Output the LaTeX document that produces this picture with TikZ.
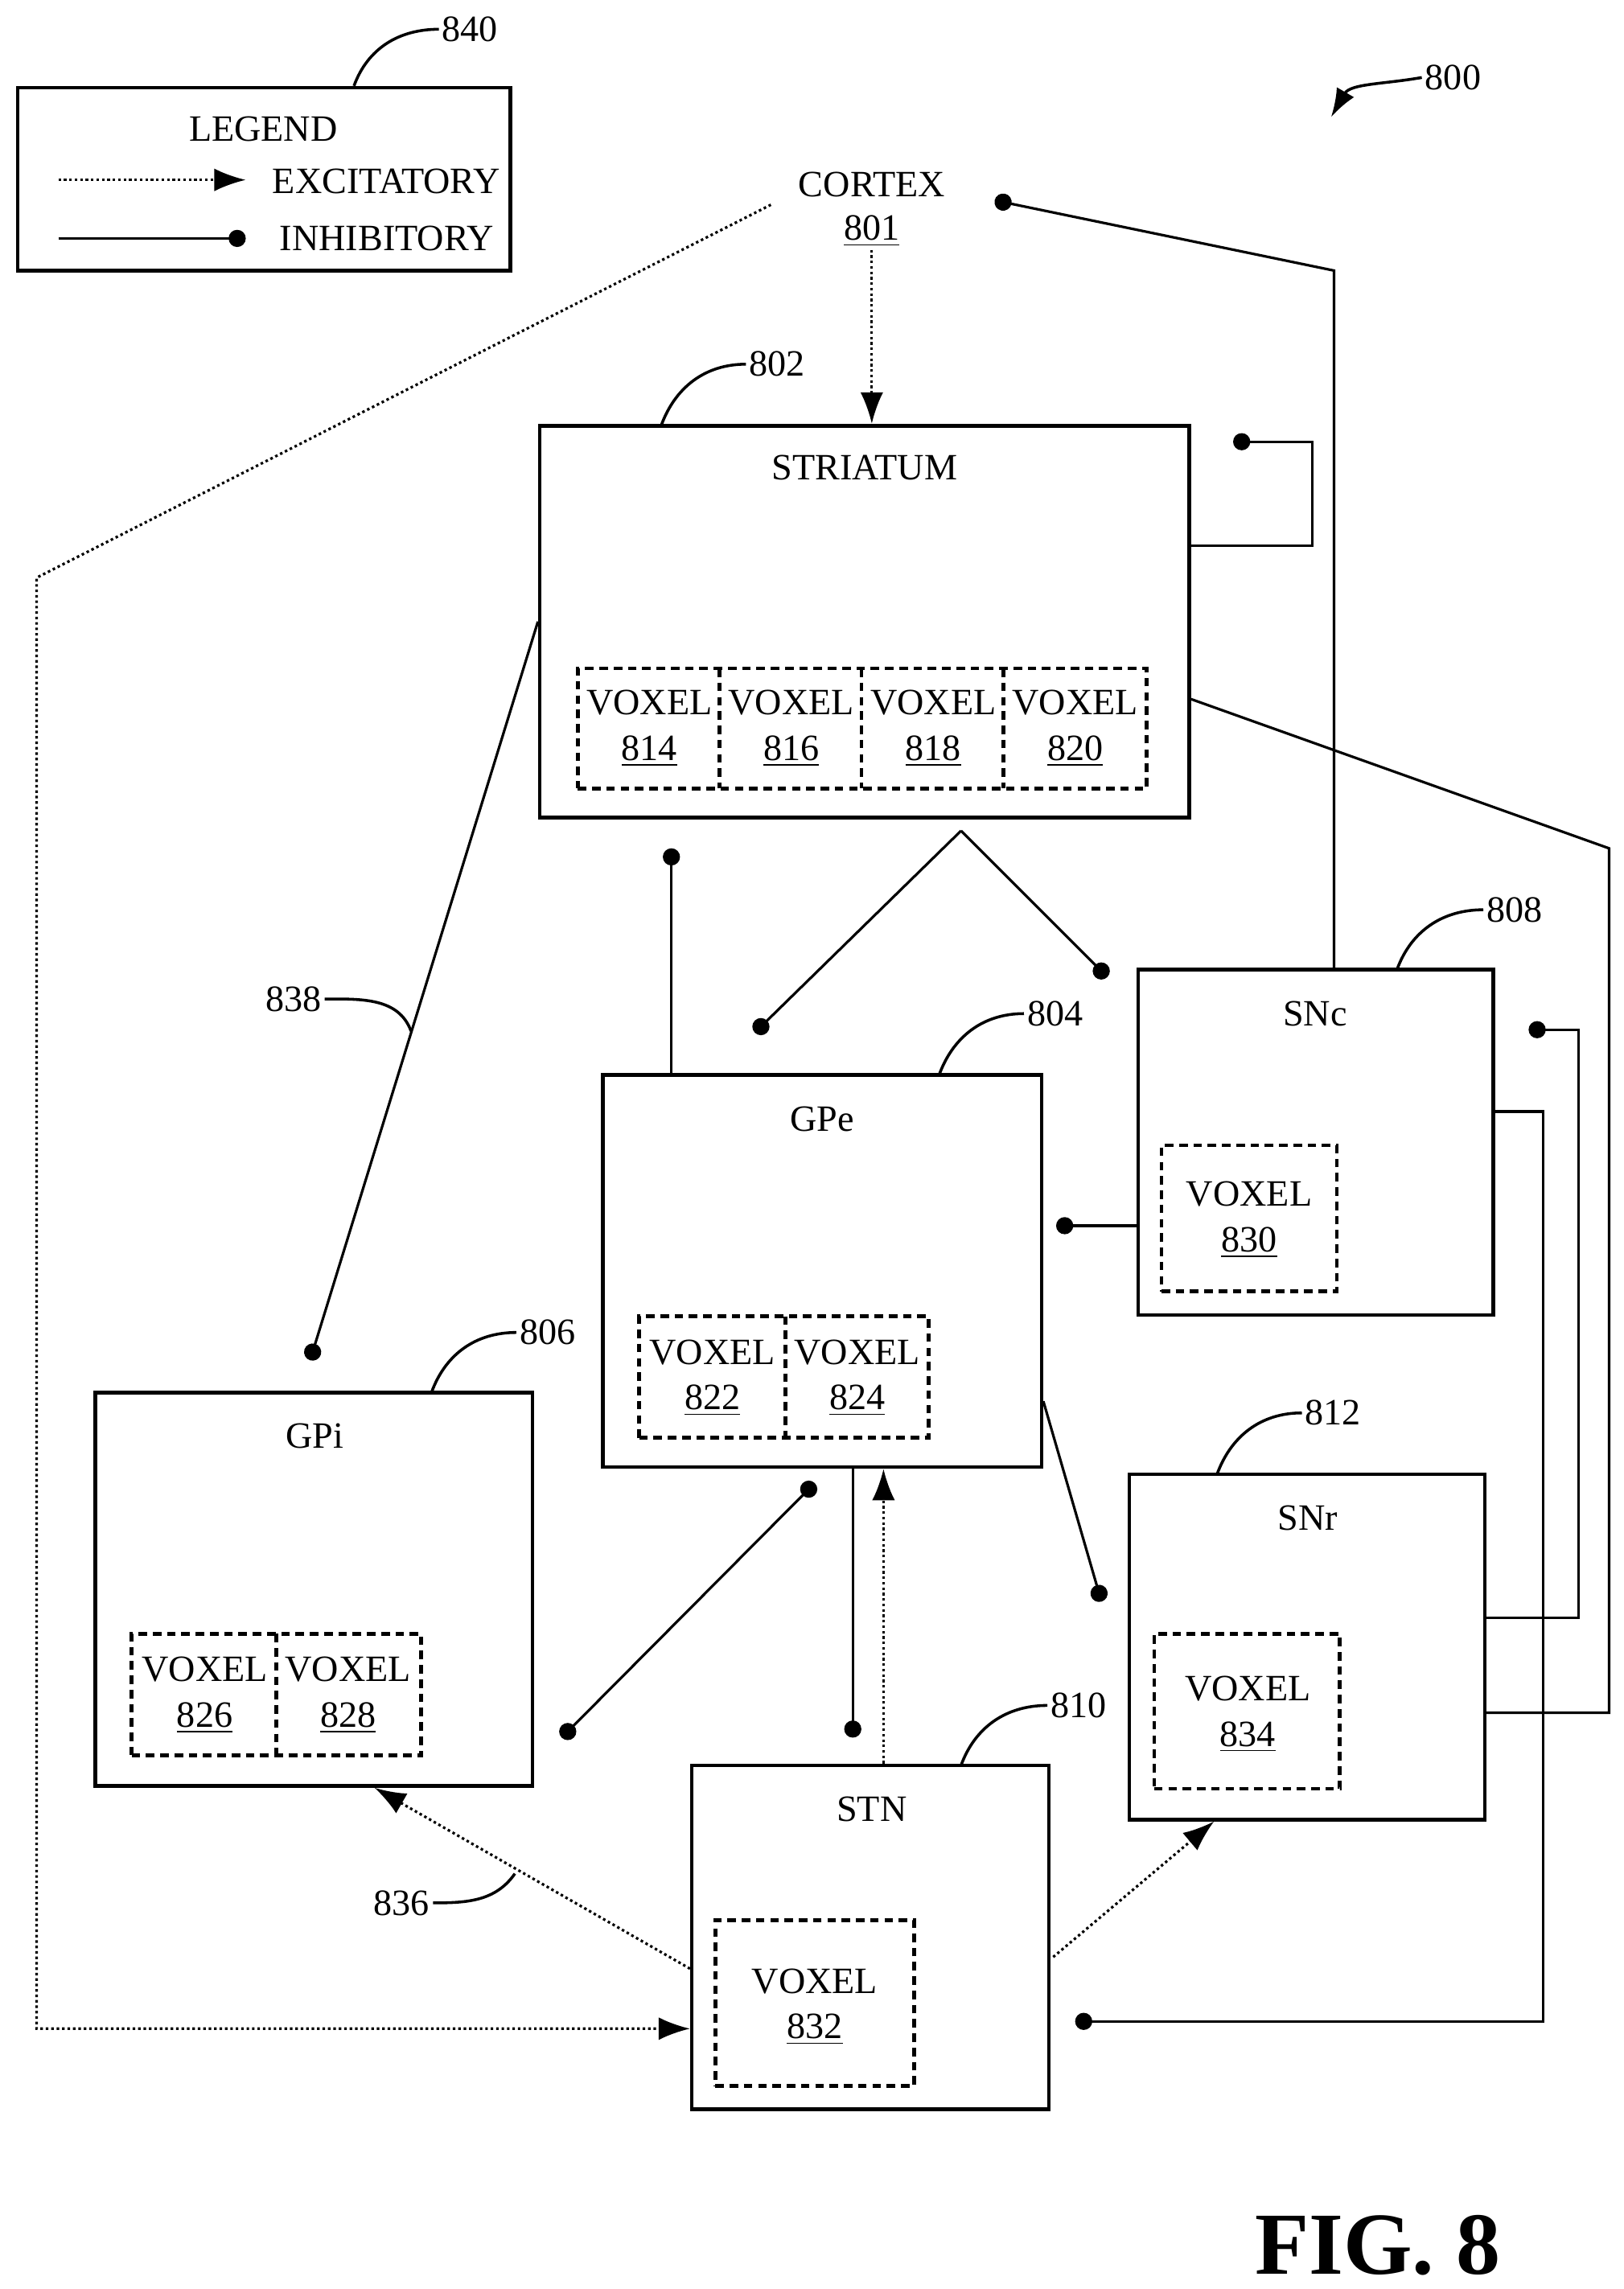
\documentclass[tikz,border=0pt]{standalone}
\usepackage{fontspec}
\setmainfont{Liberation Serif}
\usetikzlibrary{arrows.meta,fit,calc}
\tikzset{
  box/.style={draw, line width=1.3pt, inner sep=0pt},
  vox/.style={draw, densely dashed, line width=1.3pt, inner sep=0pt},
  inh/.style={line width=0.9pt, -{Circle[length=6pt]}},
  exc/.style={line width=0.9pt, densely dotted, -{Latex[length=11pt,width=8pt]}},
  lead/.style={line width=1pt},
  txt/.style={font=\fontsize{13}{15}\selectfont, align=center, inner sep=1pt},
}
\begin{document}
\begin{tikzpicture}[x=0.018cm, y=-0.018cm]
  \useasboundingbox (0,0) rectangle (1110,1565);
  % legend
  \node[box, fit={(12,60)(349,185)}] (leg) {};
  \node[txt] (legt) at (180,88) {LEGEND};
  \coordinate (ea) at (40,123); \coordinate (eb) at (168,123);
  \draw[exc] (ea) -- (eb);
  \node[txt, anchor=west] (ext) at (184,124) {EXCITATORY};
  \coordinate (ia) at (40,163); \coordinate (ib) at (168,163);
  \draw[inh] (ia) -- (ib);
  \node[txt, anchor=west] (int) at (189,163) {INHIBITORY};
  \node[txt, anchor=west] (n840) at (300,20) {840};
  \draw[lead] (leg.north west -| 242,0) to[out=70,in=180] (n840.west);
  % figure number
  \node[txt, anchor=west] (n800) at (972,53) {800};
  \draw[lead, -{Latex[length=10pt,width=7pt]}] (n800.west) to[out=190,in=60] (910,80);
  % cortex
  \node[txt] (ctx) at (596,126) {CORTEX};
  \node[txt] (n801) at (596,158) {\underline{801}};
  % boxes
  \node[box, fit={(369,291)(813,559)}] (str) {};
  \node[txt] at (591,320) {STRIATUM};
  \node[vox, fit={(395,457)(784,539)}] (strv) {};
  \foreach \x in {492,589,686} \draw[densely dashed, line width=1.3pt] (\x,457) -- (\x,539);
  \foreach \x/\n in {444/814,541/816,638/818,735/820}
    \node[txt] at (\x,498) {VOXEL\\[1pt]\underline{\n}};
  \node[txt, anchor=west] (n802) at (510,249) {802};
  \draw[lead] (452,291) to[out=70,in=180] (n802.west);

  \node[box, fit={(412,735)(712,1003)}] (gpe) {};
  \node[txt] at (562,765) {GPe};
  \node[vox, fit={(437,900)(635,983)}] (gpev) {};
  \draw[densely dashed, line width=1.3pt] (537,900) -- (537,983);
  \foreach \x/\n in {487/822,586/824}
    \node[txt] at (\x,942) {VOXEL\\[1pt]\underline{\n}};
  \node[txt, anchor=west] (n804) at (700,693) {804};
  \draw[lead] (642,735) to[out=70,in=180] (n804.west);

  \node[box, fit={(778,663)(1021,899)}] (snc) {};
  \node[txt] at (899,693) {SNc};
  \node[vox, fit={(794,783)(914,883)}] (sncv) {};
  \node[txt] at (854,834) {VOXEL\\[1pt]\underline{830}};
  \node[txt, anchor=west] (n808) at (1014,622) {808};
  \draw[lead] (955,663) to[out=70,in=180] (n808.west);

  \node[box, fit={(65,952)(364,1221)}] (gpi) {};
  \node[txt] at (215,982) {GPi};
  \node[vox, fit={(90,1117)(288,1200)}] (gpiv) {};
  \draw[densely dashed, line width=1.3pt] (189,1117) -- (189,1200);
  \foreach \x/\n in {140/826,238/828}
    \node[txt] at (\x,1159) {VOXEL\\[1pt]\underline{\n}};
  \node[txt, anchor=west] (n806) at (353,911) {806};
  \draw[lead] (295,952) to[out=70,in=180] (n806.west);

  \node[box, fit={(772,1008)(1015,1244)}] (snr) {};
  \node[txt] at (894,1038) {SNr};
  \node[vox, fit={(789,1117)(916,1223)}] (snrv) {};
  \node[txt] at (853,1172) {VOXEL\\[1pt]\underline{834}};
  \node[txt, anchor=west] (n812) at (890,966) {812};
  \draw[lead] (832,1008) to[out=70,in=180] (n812.west);

  \node[box, fit={(473,1207)(717,1442)}] (stn) {};
  \node[txt] at (596,1237) {STN};
  \node[vox, fit={(489,1313)(625,1426)}] (stnv) {};
  \node[txt] at (557,1372) {VOXEL\\[1pt]\underline{832}};
  \node[txt, anchor=west] (n810) at (716,1166) {810};
  \draw[lead] (657,1207) to[out=70,in=180] (n810.west);

  % connections
  \draw[exc] (n801.south) -- (str.north -| n801);
  \draw[exc] (527,140) -- (25,395) -- (25,1387) -- (stn.west |- 0,1387);
  \draw[inh] (snc.north -| 912,0) -- (912,185) -- (680,137);
  \draw[inh] (str.east |- 0,373) -- (897,373) -- (897,302) -- (843,302);
  \draw[line width=0.9pt] (str.east |- 0,478) -- (1100,580) -- (1100,1171) -- (snr.east |- 0,1171);
  \coordinate (apex) at (657,568);
  \draw[inh] (apex) -- (516,706);
  \draw[inh] (apex) -- (757,668);
  \draw[inh] (gpe.north -| 459,0) -- (459,580);
  \draw[inh] (str.west |- 0,425) -- (212,930);
  \node[txt, anchor=east] (n838) at (222,683) {838};
  \draw[lead] (n838.east) to[out=0,in=110] (281,705);
  \draw[inh] (snc.west |- 0,838) -- (722,838);
  \draw[inh] (snc.east |- 0,760) -- (1055,760) -- (1055,1382) -- (735,1382);
  \draw[inh] (snr.east |- 0,1106) -- (1079,1106) -- (1079,704) -- (1045,704);
  \draw[inh] (gpe.east |- 0,958) -- (753,1095);
  \draw[inh] (gpe.south -| 583,0) -- (583,1188);
  \draw[exc] (stn.north -| 604,0) -- (gpe.south -| 604,0);
  \coordinate (gpid) at (384,1188);
  \draw[{Circle[length=6pt]}-{Circle[length=6pt]}, line width=0.9pt] (gpid) -- (557,1014);
  \draw[exc] (stn.west |- 0,1346) -- (gpi.south -| 256,0);
  \node[txt, anchor=east] (n836) at (296,1301) {836};
  \draw[lead] (n836.east) to[out=0,in=235] (352,1281);
  \draw[exc] (720,1338) -- (snr.south -| 830,0);
  % title
  \node[font=\fontsize{31}{34}\selectfont\bfseries] (fig) at (942,1535) {FIG. 8};
\end{tikzpicture}
\end{document}
